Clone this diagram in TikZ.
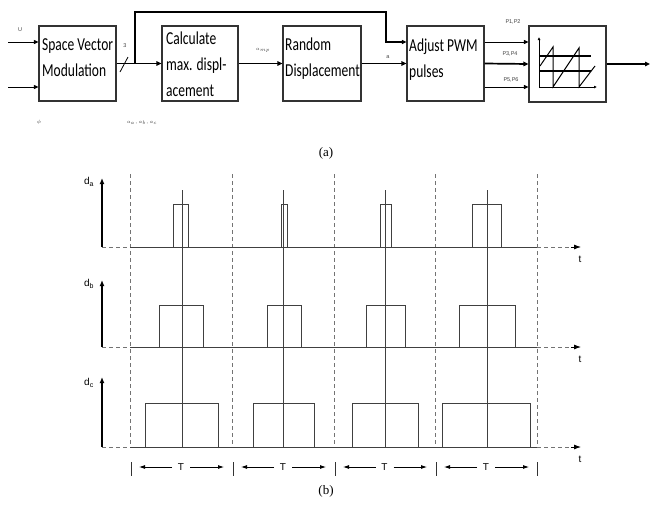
\documentclass[tikz,border=0pt]{standalone}
\usepackage{fontspec}
\setmainfont{Liberation Serif}
\setsansfont{Liberation Sans}
\newfontfamily\calfont{Carlito}
\usetikzlibrary{arrows.meta}
\newcommand\bxl[1]{\scalebox{1}[1.35]{#1}}
\begin{document}
\begin{tikzpicture}[x=1pt,y=-1pt,
  blk/.style={draw=black!80,line width=1.1pt,inner sep=0pt},
  boxtxt/.style={font=\calfont\fontsize{13.5}{26}\selectfont,align=left,inner sep=0pt,anchor=base west},
  sig/.style={line width=0.9pt,-{Triangle[length=4.5pt,width=4pt]}},
  bus/.style={line width=1.7pt,-{Triangle[length=5pt,width=4.5pt]}},
  tiny/.style={font=\sffamily\fontsize{5.5}{6}\selectfont,inner sep=0pt,text=black!75},
  pulse/.style={draw=black!75,line width=0.8pt},
  gridl/.style={draw=black!55,line width=0.8pt,dash pattern=on 4pt off 3pt},
  axisl/.style={line width=1.4pt,-{Latex[length=6pt,width=5pt]}},
  tarr/.style={line width=0.8pt,-{Latex[length=6pt,width=4pt]}},
  lab/.style={font=\sffamily\fontsize{10}{12}\selectfont,inner sep=0pt}]
\useasboundingbox (0,0) rectangle (650,509);

% ---------- block diagram (a) ----------
\node[blk,minimum width=77pt,minimum height=75pt] (b1) at (77.5,63.5) {};
\node[blk,minimum width=76pt,minimum height=75pt] (b2) at (200,63.5) {};
\node[blk,minimum width=78pt,minimum height=75pt] (b3) at (322,63.5) {};
\node[blk,minimum width=77pt,minimum height=75pt] (b4) at (445.5,63.5) {};
\node[blk,minimum width=77pt,minimum height=76pt] (b5) at (567.5,64) {};

\node[boxtxt] (t1) at (42,76) {\bxl{Space Vector}\\\bxl{Modulation}};
\node[boxtxt] (t2) at (166,96) {\bxl{Calculate}\\\bxl{max. displ-}\\\bxl{acement}};
\node[boxtxt] (t3) at (285,76) {\bxl{Random}\\\bxl{Displacement}};
\node[boxtxt] (t4) at (409,77) {\bxl{Adjust PWM}\\\bxl{pulses}};

\coordinate (in1) at (8,42);
\coordinate (in2) at (8,87);
\coordinate (br) at (135,63.5);
\coordinate (fb) at (386,12);
\coordinate (out) at (650,64);

\draw[sig] (in1) -- (in1 -| b1.west);
\draw[sig] (in2) -- (in2 -| b1.west);
\draw[bus] (b1.east) -- (b2.west);
\draw[line width=1.2pt,-{Triangle[length=4.5pt,width=4pt]}] (br) |- (fb) |- (in1 -| b4.west);
\draw[bus] (b2.east) -- (b3.west);
\draw[bus] (b3.east) -- (b4.west);
\draw[sig] (in1 -| b4.east) -- (in1 -| b5.west);
\draw[bus] (b4.east) -- (b5.west);
\draw[sig] (in2 -| b4.east) -- (in2 -| b5.west);
\draw[bus] (b5.east) -- (out);
\draw[line width=0.8pt] (120,72) -- (128,57);

\node[tiny] (lU) at (20,30) {U};
\node[tiny] (lphi) at (39,122) {$\phi$};
\node[tiny] (l3) at (125,46) {3};
\node[tiny] (labc) at (142,123) {$a_a,a_b,a_c$};
\node[tiny] (lamp) at (263,50) {$a_{mp}$};
\node[tiny] (la) at (388,57) {a};
\node[tiny] (lp12) at (513,22) {P1,P2};
\node[tiny] (lp34) at (510,54) {P3,P4};
\node[tiny] (lp56) at (511,80) {P5,P6};

% chart inside block 5
\draw[line width=0.9pt,-{Latex[length=3pt,width=3pt]}] (539,88) -- (539,37);
\draw[line width=0.9pt,-{Latex[length=3pt,width=3pt]}] (539,87) -- (597,87);
\draw[line width=1.2pt] (539,56) -- (591,56);
\draw[line width=1.6pt] (539,71) -- (591,71);
\draw[line width=1pt] (540,66) -- (553,47) -- (553,87) -- (579,48) -- (579,87) -- (595,66);

\node[font=\fontsize{13}{15}\selectfont,inner sep=0pt] (capa) at (326,153) {(a)};

% ---------- timing diagram (b) ----------
\foreach \x in {130,232,334,435,537} \draw[gridl] (\x,174) -- (\x,447);
\foreach \x in {182,283.5,385.5,487} \draw[pulse] (\x,190) -- (\x,447);
\foreach \y/\tp in {247/178,347/280,447/377} {
  \draw[axisl] (102,\y) -- (102,\tp);
  \draw[gridl] (102,\y) -- (130,\y);
  \draw[pulse] (130,\y) -- (537,\y);
  \draw[gridl] (537,\y) -- (572,\y);
  \draw[line width=0.8pt,-{Latex[length=7pt,width=5pt]}] (571,\y) -- (581,\y);
}
\foreach \l/\r in {173/188,281/287,380/391,472/501}
  \draw[pulse] (\l,247) -- (\l,204) -- (\r,204) -- (\r,247);
\foreach \l/\r in {159/203,267.5/301.5,366.5/405,459.5/515}
  \draw[pulse] (\l,347) -- (\l,305) -- (\r,305) -- (\r,347);
\foreach \l/\r in {145/218,253/314,352/418.5,442/530}
  \draw[pulse] (\l,447) -- (\l,403.5) -- (\r,403.5) -- (\r,447);

\node[lab] (da) at (89,182) {d\textsubscript{a}};
\node[lab] (db) at (89,284) {d\textsubscript{b}};
\node[lab] (dc) at (89,383) {d\textsubscript{c}};
\node[lab] (ta) at (580,259) {t};
\node[lab] (tb) at (580,359) {t};
\node[lab] (tc) at (580,459) {t};

\foreach \x in {131,233,335,436,537} \draw[line width=1pt,black!80] (\x,462) -- (\x,476);
\foreach \l/\r/\n in {130/232/1,232/334/2,334/435/3,435/537/4} {
  \pgfmathsetmacro\c{(\l+\r)/2}
  \draw[tarr] (\c-9,467) -- (\l+9,467);
  \draw[tarr] (\c+9,467) -- (\r-8,467);
  \node[lab] (T\n) at (\c,467) {T};
}

\node[font=\fontsize{13}{15}\selectfont,inner sep=0pt] (capb) at (326,491) {(b)};
\end{tikzpicture}
\end{document}
